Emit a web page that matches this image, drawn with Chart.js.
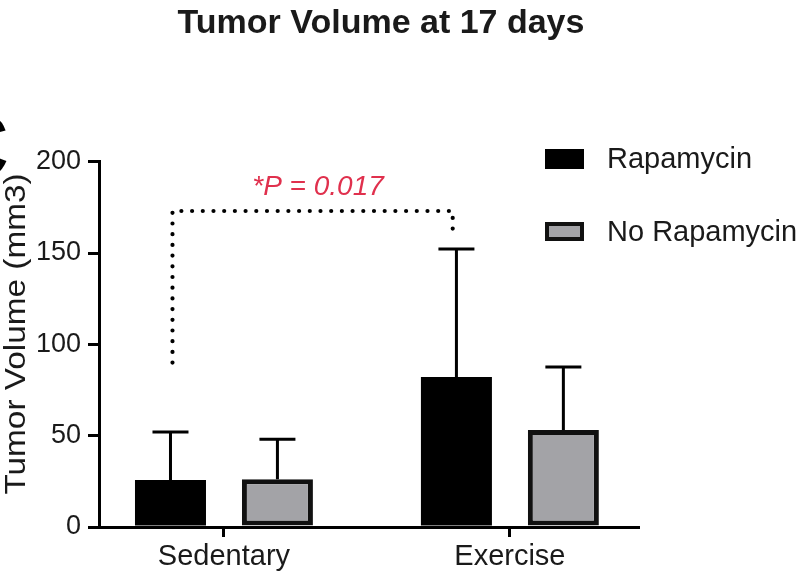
<!DOCTYPE html>
<html>
<head>
<meta charset="utf-8">
<script src="https://cdn.jsdelivr.net/npm/chart.js@4.4.1/dist/chart.umd.min.js"></script>
<style>
html,body{margin:0;padding:0;background:#fff;}
</style>
</head>
<body>
<canvas id="chart" width="800" height="577"></canvas>
<script>
const categories = ["Sedentary", "Exercise"];
const seriesNames = ["Rapamycin", "No Rapamycin"];
const rapamycin = [25.7, 82.1];
const noRapamycin = [26.2, 53.1];
const rapamycinErr = [26.3, 70.1];
const noRapamycinErr = [21.9, 34.5];
const yTicks = [0, 50, 100, 150, 200];
const pLabel = "*P = 0.017";

// significance bracket, in axis units
const bracketX = [-0.18, 0.8];
const bracketY = [90, 173, 163];

const FONT = "'Liberation Sans', Arial, sans-serif";
const INK = "#1a1a1a";
const toPoints = vals => vals.map((v, i) => ({x: i, y: v}));

const extras = {
  id: "extras",
  afterDatasetsDraw(c){
    const {ctx, scales:{x, y}} = c;
    ctx.save();
    // error bars (upper only)
    c.data.datasets.forEach((ds, di)=>{
      c.getDatasetMeta(di).data.forEach((bar, i)=>{
        const top = y.getPixelForValue(ds.data[i].y + ds.err[i]);
        ctx.beginPath();
        ctx.moveTo(bar.x, bar.y); ctx.lineTo(bar.x, top);
        ctx.moveTo(bar.x - 18, top); ctx.lineTo(bar.x + 18, top);
        ctx.lineWidth = 3; ctx.strokeStyle = "#000"; ctx.lineCap = "butt";
        ctx.stroke();
      });
    });
    // dotted bracket
    ctx.beginPath();
    ctx.moveTo(x.getPixelForValue(bracketX[0]), y.getPixelForValue(bracketY[0]));
    ctx.lineTo(x.getPixelForValue(bracketX[0]), y.getPixelForValue(bracketY[1]));
    ctx.lineTo(x.getPixelForValue(bracketX[1]), y.getPixelForValue(bracketY[1]));
    ctx.lineTo(x.getPixelForValue(bracketX[1]), y.getPixelForValue(bracketY[2]));
    ctx.setLineDash([0, 10.7]); ctx.lineCap = "round"; ctx.lineWidth = 4.2;
    ctx.strokeStyle = "#000"; ctx.stroke();
    ctx.setLineDash([]);
    // p value
    ctx.font = "italic 28px " + FONT;
    ctx.fillStyle = "#e0304d"; ctx.textAlign = "center"; ctx.textBaseline = "alphabetic";
    ctx.fillText(pLabel, x.getPixelForValue(0.329), y.getPixelForValue(181.8));
    ctx.restore();
  },
  afterDraw(c){
    const ctx = c.ctx;
    ctx.save();
    // title
    ctx.fillStyle = INK; ctx.textAlign = "center"; ctx.textBaseline = "alphabetic";
    ctx.font = "bold 34px " + FONT;
    ctx.fillText("Tumor Volume at 17 days", 381, 33);
    // cut-off panel letter
    ctx.fillStyle = "#000"; ctx.textAlign = "right";
    ctx.font = "bold 96px " + FONT;
    ctx.fillText("C", 9, 179);
    // y axis title
    ctx.save();
    ctx.translate(17, 334); ctx.rotate(-Math.PI / 2); ctx.scale(1.15, 1);
    ctx.fillStyle = INK; ctx.textAlign = "center"; ctx.textBaseline = "middle";
    ctx.font = "29px " + FONT;
    ctx.fillText("Tumor Volume (mm3)", 0, 0);
    ctx.restore();
    // legend
    const rows = [149, 222];
    c.data.datasets.forEach((ds, i)=>{
      const top = rows[i];
      if (ds.borderWidth){
        ctx.fillStyle = ds.borderColor; ctx.fillRect(545, top, 39, 19);
        ctx.fillStyle = ds.backgroundColor; ctx.fillRect(549, top + 4, 31, 11);
      } else {
        ctx.fillStyle = ds.backgroundColor; ctx.fillRect(545, top, 39, 20);
      }
      ctx.fillStyle = INK; ctx.textAlign = "left"; ctx.textBaseline = "middle";
      ctx.font = "29px " + FONT;
      ctx.fillText(ds.label, 607, top + 11);
    });
    ctx.restore();
  }
};

const chart = new Chart(document.getElementById("chart"), {
  type: "bar",
  data: {
    datasets: [
      {label: seriesNames[0], data: toPoints(rapamycin), err: rapamycinErr,
       backgroundColor: "#000", borderColor: "#000", borderWidth: 0},
      {label: seriesNames[1], data: toPoints(noRapamycin), err: noRapamycinErr,
       backgroundColor: "#a3a3a7", borderColor: "#111", borderWidth: 5, borderSkipped: false}
    ]
  },
  options: {
    responsive: false, animation: false,
    categoryPercentage: 0.748, barPercentage: 0.664,
    layout: {padding: {left: 0, right: 162, top: 161.7, bottom: 0}},
    plugins: {legend: {display: false}, title: {display: false}, tooltip: {enabled: false}},
    scales: {
      x: {
        type: "linear", min: -0.437, max: 1.448, offset: false,
        afterBuildTicks: s => { s.ticks = categories.map((c, i) => ({value: i})); },
        afterFit: s => { s.height = 50; },
        ticks: {callback: v => categories[v], color: INK, font: {family: FONT, size: 29}, padding: 3, maxRotation: 0},
        grid: {offset: false, drawOnChartArea: false, drawTicks: true, tickLength: 10, color: "#000", lineWidth: 3},
        border: {display: true, color: "#000", width: 3}
      },
      y: {
        min: 0, max: 200,
        afterBuildTicks: s => { s.ticks = yTicks.map(v => ({value: v})); },
        afterFit: s => { s.width = 99; },
        ticks: {color: INK, font: {family: FONT, size: 27}, padding: 7},
        grid: {drawOnChartArea: false, drawTicks: true, tickLength: 11, color: "#000", lineWidth: 3},
        border: {display: true, color: "#000", width: 3}
      }
    }
  },
  plugins: [extras]
});
</script>
</body>
</html>
